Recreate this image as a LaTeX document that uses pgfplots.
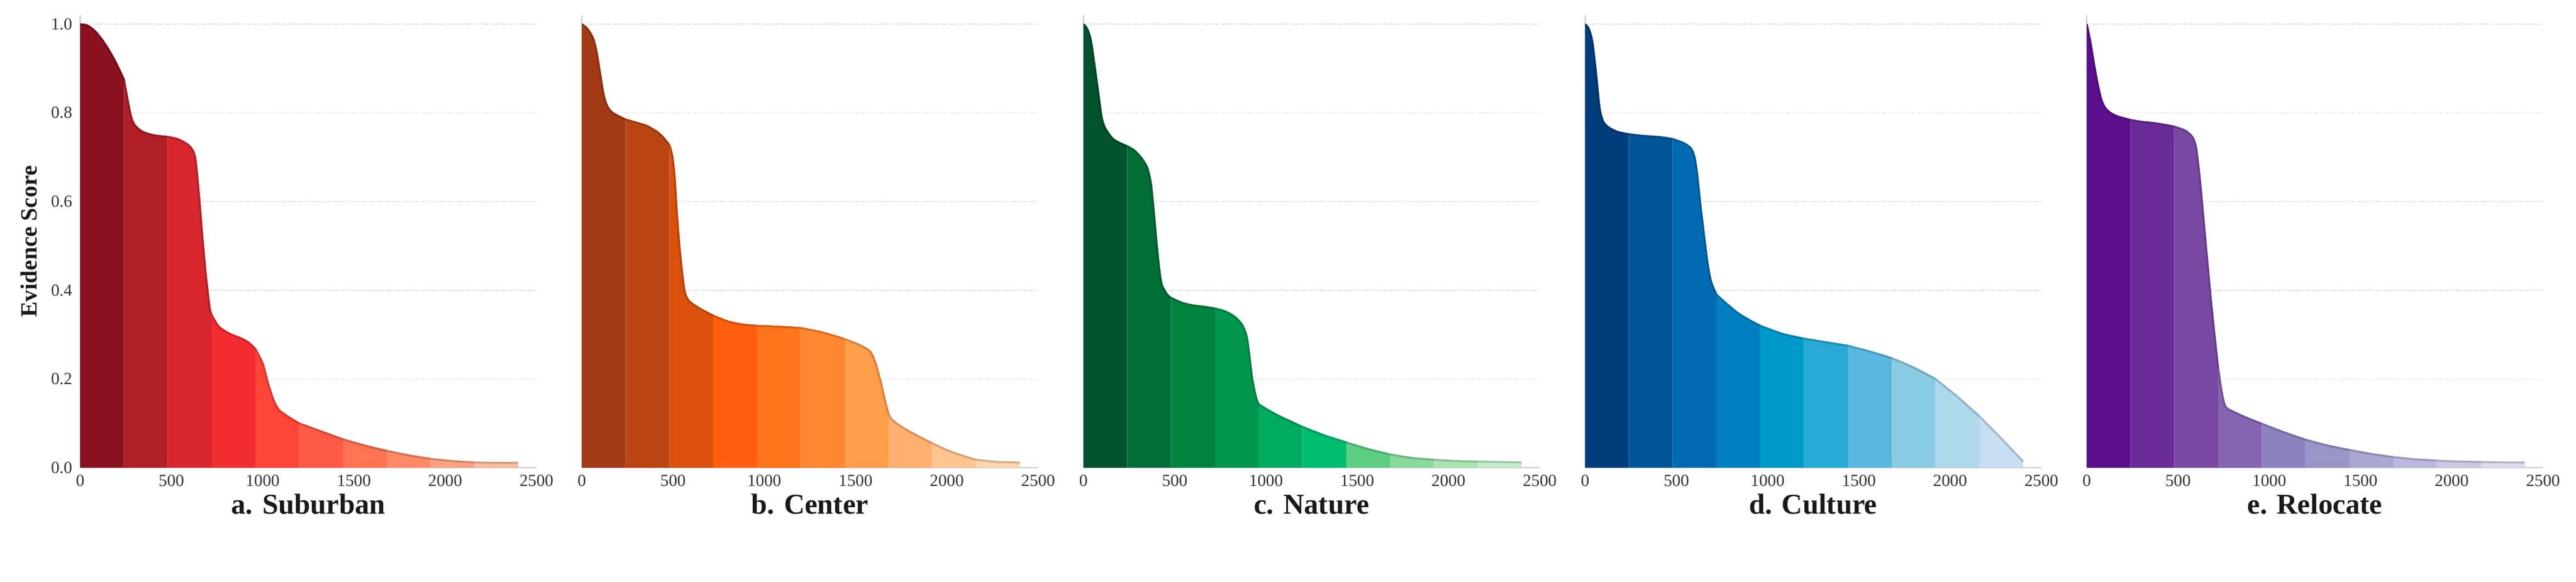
\documentclass[border=0pt]{standalone}
\usepackage{fontspec}
\setmainfont{Liberation Serif}
\usepackage{pgfplots}
\usepackage{pgfplotstable}
\pgfplotsset{compat=1.18}

% colours (dark -> light), 10 bands per panel
\definecolor{aA}{HTML}{8B1120}\definecolor{aB}{HTML}{B01E26}\definecolor{aC}{HTML}{D8262E}\definecolor{aD}{HTML}{F32C32}\definecolor{aE}{HTML}{FF4438}
\definecolor{aF}{HTML}{FF5A45}\definecolor{aG}{HTML}{FF7352}\definecolor{aH}{HTML}{FF8A66}\definecolor{aI}{HTML}{FFA080}\definecolor{aJ}{HTML}{FFBBA0}
\definecolor{bA}{HTML}{A33A15}\definecolor{bB}{HTML}{BA4412}\definecolor{bC}{HTML}{DA510E}\definecolor{bD}{HTML}{FF5F0E}\definecolor{bE}{HTML}{FF7419}
\definecolor{bF}{HTML}{FF8732}\definecolor{bG}{HTML}{FF9D4A}\definecolor{bH}{HTML}{FFB070}\definecolor{bI}{HTML}{FFC490}\definecolor{bJ}{HTML}{FFD5AC}
\definecolor{cA}{HTML}{00532D}\definecolor{cB}{HTML}{006E35}\definecolor{cC}{HTML}{00833F}\definecolor{cD}{HTML}{00964E}\definecolor{cE}{HTML}{00AA5E}
\definecolor{cF}{HTML}{00BD6E}\definecolor{cG}{HTML}{5ECD84}\definecolor{cH}{HTML}{88DA9C}\definecolor{cI}{HTML}{A9E4B5}\definecolor{cJ}{HTML}{C3ECC8}
\definecolor{dA}{HTML}{003E7B}\definecolor{dB}{HTML}{005597}\definecolor{dC}{HTML}{006BB0}\definecolor{dD}{HTML}{0080C0}\definecolor{dE}{HTML}{0099CC}
\definecolor{dF}{HTML}{27A9D6}\definecolor{dG}{HTML}{58B8DF}\definecolor{dH}{HTML}{8ACBE4}\definecolor{dI}{HTML}{AED8EC}\definecolor{dJ}{HTML}{C8DEF2}
\definecolor{eA}{HTML}{5C0F8D}\definecolor{eB}{HTML}{6A2A97}\definecolor{eC}{HTML}{7849A3}\definecolor{eD}{HTML}{8565B1}\definecolor{eE}{HTML}{8D82C0}
\definecolor{eF}{HTML}{9A94C8}\definecolor{eG}{HTML}{ABA6D2}\definecolor{eH}{HTML}{BDB8DD}\definecolor{eI}{HTML}{CCC8E4}\definecolor{eJ}{HTML}{DDDAEC}
\definecolor{axgray}{HTML}{CCCCCC}
\definecolor{gridgray}{HTML}{D4D4D4}
\definecolor{ticktext}{HTML}{333333}

\pgfplotstableread{
x y
0 1.000
40 0.997
80 0.985
120 0.965
160 0.940
200 0.910
240 0.875
260 0.830
280 0.790
300 0.772
340 0.758
400 0.750
480 0.746
540 0.740
600 0.725
630 0.700
650 0.620
670 0.520
690 0.430
710 0.360
720 0.345
760 0.318
820 0.302
880 0.292
920 0.283
960 0.268
1000 0.235
1030 0.190
1060 0.152
1090 0.130
1140 0.115
1200 0.100
1300 0.085
1440 0.064
1560 0.050
1680 0.038
1800 0.028
1920 0.020
2040 0.015
2160 0.012
2280 0.011
2400 0.011
}\tA

\pgfplotstableread{
x y
0 1.000
30 0.990
60 0.970
80 0.940
100 0.890
120 0.840
140 0.815
170 0.800
240 0.785
300 0.778
360 0.770
420 0.755
460 0.738
480 0.727
495 0.705
508 0.660
520 0.580
535 0.500
550 0.440
565 0.395
590 0.375
650 0.358
720 0.343
800 0.330
880 0.323
960 0.320
1080 0.318
1200 0.315
1300 0.307
1380 0.298
1440 0.290
1520 0.277
1580 0.262
1610 0.235
1640 0.190
1665 0.145
1680 0.122
1700 0.108
1760 0.090
1840 0.072
1920 0.055
2000 0.040
2080 0.028
2160 0.018
2280 0.013
2400 0.012
}\tB

\pgfplotstableread{
x y
0 1.000
20 0.990
40 0.965
60 0.910
80 0.850
100 0.790
120 0.765
160 0.742
200 0.732
240 0.725
280 0.715
320 0.697
350 0.676
370 0.640
385 0.580
400 0.510
415 0.450
430 0.412
460 0.390
480 0.383
540 0.372
600 0.366
660 0.363
720 0.359
780 0.352
830 0.340
870 0.322
895 0.295
910 0.250
925 0.200
945 0.160
960 0.143
1020 0.128
1080 0.115
1200 0.092
1320 0.073
1440 0.057
1560 0.042
1680 0.030
1800 0.022
1920 0.018
2040 0.015
2160 0.014
2280 0.013
2400 0.012
}\tC

\pgfplotstableread{
x y
0 1.000
20 0.990
40 0.960
60 0.890
80 0.810
100 0.780
130 0.767
180 0.757
240 0.752
300 0.749
360 0.747
420 0.745
480 0.741
540 0.732
580 0.720
600 0.700
615 0.660
630 0.600
650 0.530
670 0.465
690 0.420
720 0.390
780 0.368
840 0.348
900 0.333
960 0.320
1080 0.302
1200 0.291
1320 0.283
1440 0.275
1560 0.262
1680 0.247
1800 0.226
1920 0.200
2040 0.160
2160 0.116
2280 0.066
2400 0.014
}\tD

\pgfplotstableread{
x y
0 1.000
20 0.960
40 0.910
60 0.865
80 0.830
100 0.812
130 0.800
170 0.792
240 0.784
300 0.780
370 0.777
430 0.773
480 0.769
540 0.760
580 0.745
600 0.720
620 0.650
640 0.560
660 0.470
680 0.380
700 0.300
720 0.225
740 0.170
760 0.138
800 0.127
880 0.112
960 0.099
1080 0.080
1200 0.063
1320 0.050
1440 0.040
1560 0.031
1680 0.024
1800 0.019
1920 0.016
2040 0.014
2160 0.013
2280 0.012
2400 0.012
}\tE

% one filled band
\newcommand{\band}[4]{%
  \addplot[draw=none, fill=#2, smooth, tension=0.45, restrict x to domain=#3:#4, forget plot]
    table[x=x,y=y] {#1} \closedcycle;}
% top line of one band
\newcommand{\bline}[4]{%
  \addplot[draw=#2!82!black, line width=1.3pt, smooth, tension=0.45, restrict x to domain=#3:#4, forget plot]
    table[x=x,y=y] {#1};}
\newcommand{\panel}[2]{% #1 table, #2 colour prefix
  \band{#1}{#2A}{0}{240}\band{#1}{#2B}{240}{480}\band{#1}{#2C}{480}{720}\band{#1}{#2D}{720}{960}\band{#1}{#2E}{960}{1200}%
  \band{#1}{#2F}{1200}{1440}\band{#1}{#2G}{1440}{1680}\band{#1}{#2H}{1680}{1920}\band{#1}{#2I}{1920}{2160}\band{#1}{#2J}{2160}{2400}%
  \bline{#1}{#2A}{0}{240}\bline{#1}{#2B}{240}{480}\bline{#1}{#2C}{480}{720}\bline{#1}{#2D}{720}{960}\bline{#1}{#2E}{960}{1200}%
  \bline{#1}{#2F}{1200}{1440}\bline{#1}{#2G}{1440}{1680}\bline{#1}{#2H}{1680}{1920}\bline{#1}{#2I}{1920}{2160}\bline{#1}{#2J}{2160}{2400}}

\pgfplotsset{
  evid/.style={
    scale only axis, width=309.6pt, height=307.2pt, anchor=south west,
    xmin=0, xmax=2500, ymin=0, ymax=1.02,
    axis lines*=left,
    axis line style={color=axgray, line width=0.9pt},
    major tick length=0pt,
    xtick={0,500,1000,1500,2000,2500},
    ytick={0,0.2,0.4,0.6,0.8,1.0},
    ymajorgrids,
    grid style={color=gridgray, line width=0.6pt, dash pattern=on 0.6pt off 0.9pt},
    /pgf/number format/assume math mode=true,
    /pgf/number format/1000 sep={},
    yticklabel style={/pgf/number format/fixed, /pgf/number format/fixed zerofill, /pgf/number format/precision=1,
      anchor=east, inner sep=0pt, xshift=-5.2pt, font=\fontsize{11.5}{13}\selectfont, text=ticktext},
    xticklabel style={anchor=base, inner sep=0pt, yshift=-12.6pt, font=\fontsize{11.5}{13}\selectfont, text=ticktext},
    xlabel style={at={(axis description cs:0.5,0)}, anchor=base, yshift=-31.6pt,
      font=\bfseries\fontsize{19.5}{22}\selectfont, text=black!90},
    ylabel style={at={(axis description cs:-0.1124,0.5)}, anchor=center, rotate=0,
      font=\bfseries\fontsize{15.8}{18}\selectfont, text=black!90},
  }
}

\begin{document}
\begin{tikzpicture}
\useasboundingbox (0,0) rectangle (1748pt,395.2pt);

\begin{axis}[evid, at={(54.4pt,77.6pt)}, xlabel={a. Suburban}, ylabel={Evidence Score}]
\panel{\tA}{a}
\end{axis}

\begin{axis}[evid, at={(394.8pt,77.6pt)}, xlabel={b. Center}, yticklabels={}]
\panel{\tB}{b}
\end{axis}

\begin{axis}[evid, at={(735.2pt,77.6pt)}, xlabel={c. Nature}, yticklabels={}]
\panel{\tC}{c}
\end{axis}

\begin{axis}[evid, at={(1075.6pt,77.6pt)}, xlabel={d. Culture}, yticklabels={}]
\panel{\tD}{d}
\end{axis}

\begin{axis}[evid, at={(1416pt,77.6pt)}, xlabel={e. Relocate}, yticklabels={}]
\panel{\tE}{e}
\end{axis}
\end{tikzpicture}
\end{document}
